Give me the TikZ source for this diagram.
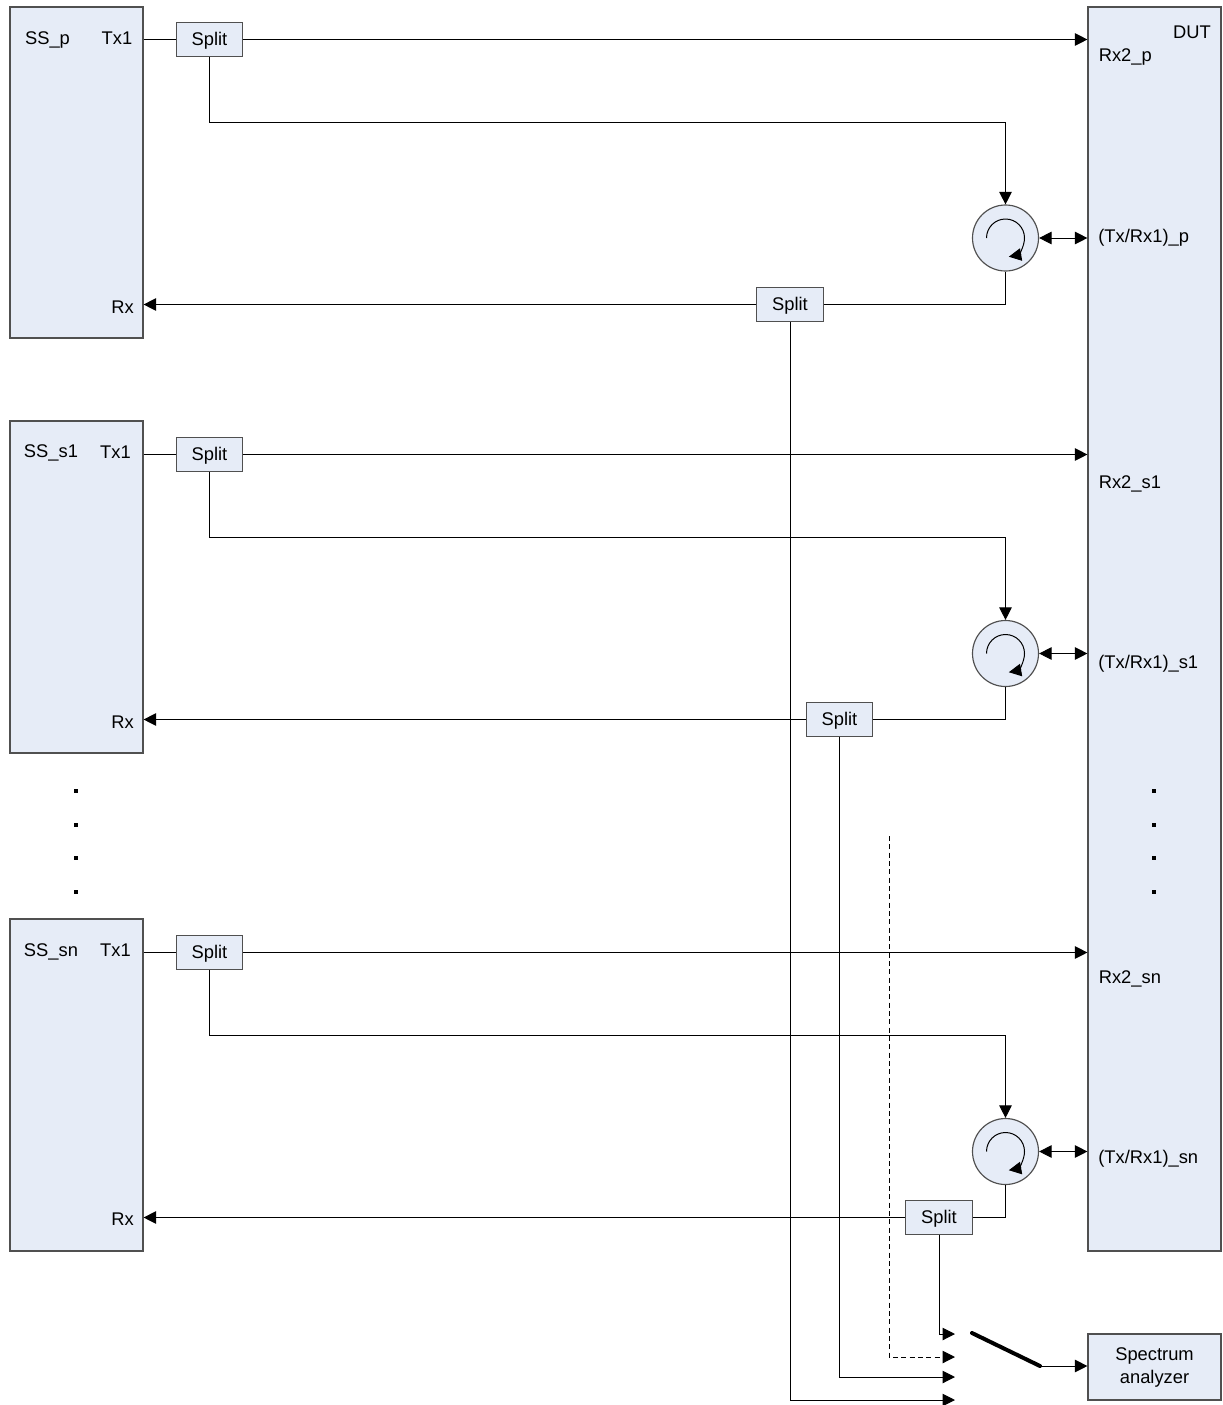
\documentclass[tikz,border=0pt]{standalone}
\usepackage{fontspec}
\setmainfont{Liberation Sans}
\usepackage{xcolor}
\usetikzlibrary{positioning,arrows.meta,calc}
\definecolor{boxfill}{HTML}{E6ECF7}
\definecolor{boxline}{HTML}{505050}
\tikzset{
  blk/.style ={draw=boxline, fill=boxfill, line width=0.7pt, inner sep=0pt},
  splt/.style={draw=boxline, fill=boxfill, line width=0.7pt, minimum width=40pt, minimum height=20pt, inner sep=0pt, text height=9.2pt, text depth=2.3pt},
  circu/.style={circle, draw=boxline, fill=boxfill, line width=0.7pt, minimum size=39.6pt, inner sep=0pt},
  lab/.style ={inner sep=0pt, align=center},
  edge/.style={-{Triangle[length=7.5pt,width=7.5pt]}, line width=0.6pt},
  both/.style={{Triangle[length=7.5pt,width=7.5pt]}-{Triangle[length=7.5pt,width=7.5pt]}, line width=0.6pt},
  wire/.style={line width=0.6pt},
  dotn/.style={fill=black, minimum size=2pt, inner sep=0pt},
}
\begin{document}
\begin{tikzpicture}[x=0.6pt, y=-0.6pt, font=\fontsize{11}{13.8}\selectfont]
  \useasboundingbox (0,0) rectangle (1222,1405);
  % blocks
  \node[blk, minimum width=79.8pt, minimum height=198.6pt] (ssp) at (76.5,172.5) {};
  \node[blk, minimum width=79.8pt, minimum height=199.2pt] (sss) at (76.5,587) {};
  \node[blk, minimum width=79.8pt, minimum height=199.2pt] (ssn) at (76.5,1085) {};
  \node[blk, minimum width=79.8pt, minimum height=746.4pt] (dut) at (1154.5,629) {};
  \node[blk, minimum width=79.8pt, minimum height=39.6pt, align=center] (spec) at (1154.5,1367) {Spectrum\\analyzer};
  % splitters
  \node[splt] (splta) at (209.5,39.5) {Split};
  \node[splt] (spltb) at (790,304.5) {Split};
  \node[splt] (spltc) at (209.5,454.5) {Split};
  \node[splt] (spltd) at (839.5,719.5) {Split};
  \node[splt] (splte) at (209.5,952.5) {Split};
  \node[splt] (spltf) at (939,1217.5) {Split};
  % circulators
  \node[circu] (cira) at (1005.5,238) {};
  \node[circu] (cirb) at (1005.5,653.5) {};
  \node[circu] (circ) at (1005.5,1151.5) {};
  \draw[edge] ($(cira.center)+(-19,0)$) arc[start angle=180, end angle=440, radius=19];
  \draw[edge] ($(cirb.center)+(-19,0)$) arc[start angle=180, end angle=440, radius=19];
  \draw[edge] ($(circ.center)+(-19,0)$) arc[start angle=180, end angle=440, radius=19];
  % labels
  \node[lab] (lsp) at (47.5,40) {SS\_p};
  \node[lab] (ltxa) at (117,38) {Tx1};
  \node[lab] (lrxa) at (122.5,307) {Rx};
  \node[lab] (lss) at (51,453) {SS\_s1};
  \node[lab] (ltxb) at (115.5,452) {Tx1};
  \node[lab] (lrxb) at (122.5,722) {Rx};
  \node[lab] (lsn) at (51,952) {SS\_sn};
  \node[lab] (ltxc) at (115.5,950) {Tx1};
  \node[lab] (lrxc) at (122.5,1219) {Rx};
  \node[lab] (ldut) at (1192,32) {DUT};
  \node[lab, anchor=west] (lrpa) at (1098.5,57) {Rx2\_p};
  \node[lab, anchor=west] (ltra) at (1098,238) {(Tx/Rx1)\_p};
  \node[lab, anchor=west] (lrpb) at (1098.5,484) {Rx2\_s1};
  \node[lab, anchor=west] (ltrb) at (1098,664) {(Tx/Rx1)\_s1};
  \node[lab, anchor=west] (lrpc) at (1098.5,979) {Rx2\_sn};
  \node[lab, anchor=west] (ltrc) at (1098,1159) {(Tx/Rx1)\_sn};
  % dots
  \node[dotn] (dla) at (76,791) {};
  \node[dotn] (dlb) at (76,825) {};
  \node[dotn] (dlc) at (76,858) {};
  \node[dotn] (dld) at (76,892) {};
  \node[dotn] (dra) at (1154,791) {};
  \node[dotn] (drb) at (1154,825) {};
  \node[dotn] (drc) at (1154,858) {};
  \node[dotn] (drd) at (1154,892) {};
  % first row
  \coordinate (turna) at (1005.5,122);
  \draw[wire] (ssp.east |- splta) -- (splta);
  \draw[edge] (splta) -- (splta -| dut.west);
  \draw[edge] (splta.south) |- (turna) -- (cira.north);
  \draw[both] (cira) -- (cira -| dut.west);
  \draw[wire] (cira.south) |- (spltb.east);
  \draw[edge] (spltb) -- (spltb -| ssp.east);
  % second row
  \coordinate (turnb) at (1005.5,537);
  \draw[wire] (sss.east |- spltc) -- (spltc);
  \draw[edge] (spltc) -- (spltc -| dut.west);
  \draw[edge] (spltc.south) |- (turnb) -- (cirb.north);
  \draw[both] (cirb) -- (cirb -| dut.west);
  \draw[wire] (cirb.south) |- (spltd.east);
  \draw[edge] (spltd) -- (spltd -| sss.east);
  % third row
  \coordinate (turnc) at (1005.5,1035);
  \draw[wire] (ssn.east |- splte) -- (splte);
  \draw[edge] (splte) -- (splte -| dut.west);
  \draw[edge] (splte.south) |- (turnc) -- (circ.north);
  \draw[both] (circ) -- (circ -| dut.west);
  \draw[wire] (circ.south) |- (spltf.east);
  \draw[edge] (spltf) -- (spltf -| ssn.east);
  % switch
  \coordinate (swa) at (955,1334);
  \coordinate (swb) at (955,1357);
  \coordinate (swc) at (955,1377);
  \coordinate (swd) at (955,1400);
  \coordinate (dashtop) at (889,836);
  \coordinate (swl) at (972,1333);
  \coordinate (swr) at (1040,1366);
  \draw[edge] (spltf.south) |- (swa);
  \draw[edge, densely dashed] (dashtop) |- (swb);
  \draw[edge] (spltd.south) |- (swc);
  \draw[edge] (spltb.south) |- (swd);
  \draw[line width=2.4pt, line cap=round] (swl) -- (swr);
  \draw[edge] (swr) -- (spec.west |- swr);
\end{tikzpicture}
\end{document}
